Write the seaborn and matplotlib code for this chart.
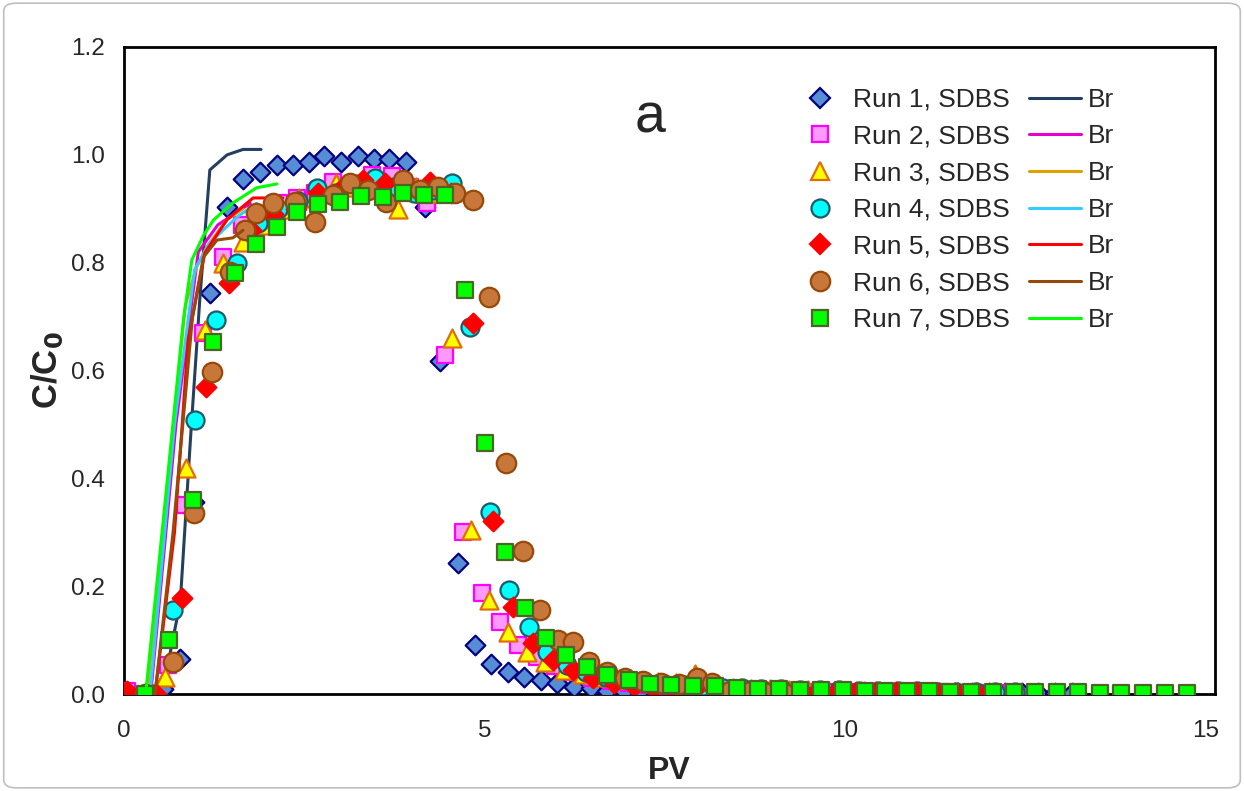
import matplotlib
matplotlib.use("Agg")
import matplotlib.pyplot as plt
from matplotlib.lines import Line2D
from matplotlib.patches import FancyBboxPatch
import pandas as pd
import seaborn as sns

# ---- data (PV, C/C0) ----
run1_x = [0.04, 0.31, 0.54, 0.78, 0.97, 1.19, 1.43, 1.65, 1.89, 2.12, 2.34, 2.56, 2.78, 3.01, 3.24,
          3.46, 3.68, 3.91, 4.17, 4.38, 4.63, 4.87, 5.09, 5.32, 5.55, 5.78, 6.01, 6.24, 6.47, 6.70,
          6.93, 7.16, 7.39, 7.62, 7.85, 8.08, 8.31, 8.54, 8.77, 9.00, 9.23, 9.46, 9.69, 9.92, 10.15,
          10.38, 10.61, 10.84, 11.07, 11.30, 11.53, 11.76, 11.99, 12.22, 12.45, 12.68, 12.91, 13.14]
run1_y = [0.0, 0.002, 0.01, 0.065, 0.356, 0.744, 0.904, 0.955, 0.968, 0.981, 0.981, 0.987, 0.998, 0.987, 0.998,
          0.993, 0.993, 0.987, 0.904, 0.618, 0.243, 0.09, 0.056, 0.041, 0.031, 0.026, 0.02, 0.013, 0.011, 0.006,
          0.005, 0.005, 0.004, 0.004, 0.004, 0.003, 0.003, 0.003, 0.003, 0.003, 0.003, 0.002, 0.002, 0.002, 0.002,
          0.002, 0.002, 0.002, 0.002, 0.002, 0.002, 0.002, 0.002, 0.002, 0.002, 0.002, 0.002, 0.002]

run2_x = [0.04, 0.35, 0.61, 0.85, 1.10, 1.37, 1.64, 1.90, 2.15, 2.40, 2.65, 2.90, 3.17, 3.44, 3.71,
          3.96, 4.20, 4.45, 4.70, 4.96, 5.21, 5.46, 5.73, 5.98, 6.24, 6.49, 6.75, 7.00, 7.26, 7.51,
          7.77, 8.02, 8.28, 8.53, 8.79, 9.04, 9.30, 9.55, 9.81, 10.06, 10.32, 10.57, 10.83, 11.08, 11.34,
          11.59, 11.85, 12.10]
run2_y = [0.005, 0.0, 0.054, 0.35, 0.67, 0.81, 0.87, 0.89, 0.91, 0.92, 0.93, 0.95, 0.94, 0.963, 0.96,
          0.94, 0.91, 0.629, 0.30, 0.187, 0.134, 0.09, 0.069, 0.052, 0.04, 0.03, 0.024, 0.02, 0.016, 0.013,
          0.011, 0.009, 0.008, 0.007, 0.006, 0.005, 0.005, 0.004, 0.004, 0.004, 0.003, 0.003, 0.003, 0.003, 0.003,
          0.002, 0.002, 0.002]

run3_x = [0.04, 0.30, 0.57, 0.86, 1.12, 1.37, 1.65, 1.91, 2.17, 2.43, 2.68, 2.94, 3.20, 3.46, 3.80,
          4.05, 4.30, 4.55, 4.81, 5.06, 5.32, 5.59, 5.84, 6.10, 6.36, 6.62, 6.88, 7.14, 7.40, 7.66,
          7.92, 8.18, 8.44, 8.70, 8.96, 9.22, 9.48, 9.74, 10.00, 10.26, 10.52, 10.78, 11.04, 11.30, 11.56,
          11.82, 12.08]
run3_y = [0.0, 0.0, 0.032, 0.42, 0.675, 0.80, 0.838, 0.87, 0.90, 0.92, 0.93, 0.948, 0.94, 0.95, 0.90,
          0.94, 0.93, 0.66, 0.305, 0.175, 0.115, 0.078, 0.059, 0.045, 0.037, 0.032, 0.028, 0.025, 0.022, 0.02,
          0.038, 0.015, 0.012, 0.01, 0.009, 0.008, 0.007, 0.006, 0.005, 0.005, 0.004, 0.004, 0.003, 0.003, 0.003,
          0.003, 0.002]

run4_x = [0.39, 0.68, 0.98, 1.28, 1.56, 1.86, 2.14, 2.41, 2.67, 2.94, 3.21, 3.48, 3.75, 4.02, 4.28,
          4.55, 4.80, 5.07, 5.34, 5.61, 5.86, 6.14, 6.41, 6.68, 6.95, 7.22, 7.49, 7.76, 8.03, 8.30,
          8.57, 8.84, 9.11, 9.38, 9.65, 9.92, 10.19, 10.46, 10.73, 11.00, 11.27, 11.54, 11.81, 12.08, 12.35]
run4_y = [0.0, 0.155, 0.508, 0.694, 0.80, 0.874, 0.90, 0.915, 0.939, 0.93, 0.945, 0.957, 0.94, 0.93, 0.935,
          0.948, 0.68, 0.338, 0.193, 0.124, 0.078, 0.054, 0.04, 0.032, 0.027, 0.022, 0.019, 0.016, 0.014, 0.012,
          0.011, 0.01, 0.009, 0.008, 0.008, 0.007, 0.006, 0.006, 0.005, 0.005, 0.004, 0.004, 0.004, 0.003, 0.003]

run5_x = [0.04, 0.45, 0.80, 1.14, 1.45, 1.76, 2.07, 2.38, 2.69, 3.00, 3.31, 3.62, 3.93, 4.24, 4.54,
          4.84, 5.12, 5.39, 5.67, 5.95, 6.23, 6.51, 6.79, 7.07, 7.35, 7.63, 7.91, 8.19, 8.47, 8.75,
          9.03, 9.31, 9.59, 9.87, 10.15, 10.43, 10.71, 10.99, 11.27, 11.55, 11.83]
run5_y = [0.005, 0.0, 0.178, 0.57, 0.762, 0.86, 0.89, 0.90, 0.93, 0.935, 0.953, 0.948, 0.94, 0.95, 0.93,
          0.688, 0.32, 0.162, 0.095, 0.063, 0.045, 0.03, 0.02, 0.014, 0.01, 0.008, 0.007, 0.008, 0.006, 0.005,
          0.005, 0.004, 0.004, 0.004, 0.003, 0.003, 0.003, 0.003, 0.002, 0.002, 0.002]

run6_x = [0.29, 0.68, 0.97, 1.22, 1.47, 1.68, 1.83, 2.07, 2.37, 2.65, 2.90, 3.13, 3.38, 3.64, 3.87,
          4.10, 4.35, 4.59, 4.84, 5.06, 5.30, 5.53, 5.77, 6.02, 6.22, 6.45, 6.70, 6.95, 7.20, 7.45,
          7.70, 7.95, 8.15, 8.40, 8.65, 8.90, 9.15]
run6_y = [0.0, 0.06, 0.336, 0.598, 0.783, 0.861, 0.892, 0.911, 0.913, 0.876, 0.926, 0.948, 0.935, 0.913, 0.953,
          0.935, 0.94, 0.93, 0.916, 0.737, 0.428, 0.266, 0.155, 0.10, 0.097, 0.06, 0.04, 0.03, 0.025, 0.02,
          0.018, 0.03, 0.02, 0.005, 0.003, 0.002, 0.002]

run7_x = [0.29, 0.63, 0.96, 1.24, 1.54, 1.83, 2.12, 2.40, 2.69, 3.00, 3.29, 3.59, 3.87, 4.16, 4.45,
          4.73, 5.00, 5.28, 5.56, 5.85, 6.13, 6.42, 6.70, 7.00, 7.30, 7.58, 7.89, 8.19, 8.50, 8.79,
          9.09, 9.38, 9.67, 9.97, 10.27, 10.56, 10.86, 11.16, 11.45, 11.75, 12.05, 12.34, 12.64, 12.94, 13.23,
          13.53, 13.83, 14.13, 14.43, 14.74]
run7_y = [0.0, 0.1, 0.36, 0.653, 0.78, 0.835, 0.866, 0.894, 0.909, 0.913, 0.924, 0.922, 0.929, 0.926, 0.926,
          0.75, 0.466, 0.263, 0.16, 0.104, 0.072, 0.05, 0.035, 0.026, 0.019, 0.017, 0.014, 0.015, 0.011, 0.01,
          0.009, 0.008, 0.008, 0.007, 0.006, 0.006, 0.005, 0.005, 0.004, 0.004, 0.004, 0.003, 0.003, 0.003, 0.003,
          0.002, 0.002, 0.002, 0.002, 0.002]

# Br tracer curves
br1_x = [0.40, 0.60, 0.78, 0.92, 1.05, 1.19, 1.43, 1.65, 1.90]
br1_y = [0.0, 0.05, 0.17, 0.47, 0.73, 0.972, 1.0, 1.01, 1.01]
br2_x = [0.37, 0.72, 1.03, 1.30, 1.75]
br2_y = [0.0, 0.50, 0.82, 0.87, 0.91]
br3_x = [0.32, 0.60, 0.85, 1.00, 1.15, 1.43, 1.65]
br3_y = [0.0, 0.38, 0.72, 0.79, 0.83, 0.88, 0.90]
br4_x = [0.36, 0.70, 0.98, 1.19, 1.57, 1.84]
br4_y = [0.0, 0.50, 0.787, 0.837, 0.885, 0.91]
br5_x = [0.43, 0.70, 0.89, 1.12, 1.43, 1.79, 2.20]
br5_y = [0.0, 0.30, 0.657, 0.818, 0.88, 0.92, 0.92]
br6_x = [0.43, 0.68, 0.95, 1.10, 1.29, 1.51, 1.65]
br6_y = [0.0, 0.30, 0.70, 0.81, 0.842, 0.846, 0.86]
br7_x = [0.30, 0.55, 0.82, 0.94, 1.10, 1.24, 1.50, 1.84, 2.12]
br7_y = [0.0, 0.33, 0.69, 0.805, 0.85, 0.879, 0.91, 0.939, 0.946]

run_labels = ["Run 1, SDBS", "Run 2, SDBS", "Run 3, SDBS", "Run 4, SDBS",
              "Run 5, SDBS", "Run 6, SDBS", "Run 7, SDBS"]

# (marker, size, face, edge, Br line colour)
STYLES = [
    ("D", 10, "#558ED5", "#000080", "#243F60"),
    ("s", 12, "#FF99FF", "#FF00FF", "#E600D0"),
    ("^", 13, "#FFFF00", "#E36C09", "#E0A000"),
    ("o", 13, "#00FFFF", "#215967", "#33CCFF"),
    ("D", 10, "#FF0000", "#FF0000", "#FF0000"),
    ("o", 14, "#C8773A", "#984807", "#984807"),
    ("s", 12, "#00FF00", "#4F6228", "#00FF00"),
]

runs = [(run1_x, run1_y), (run2_x, run2_y), (run3_x, run3_y), (run4_x, run4_y),
        (run5_x, run5_y), (run6_x, run6_y), (run7_x, run7_y)]
brs = [(br1_x, br1_y), (br2_x, br2_y), (br3_x, br3_y), (br4_x, br4_y),
       (br5_x, br5_y), (br6_x, br6_y), (br7_x, br7_y)]

sns.set_style("white")
plt.rcParams["font.family"] = ["Liberation Sans", "DejaVu Sans"]

fig = plt.figure(figsize=(12.44, 7.91), dpi=100)
ax = fig.add_axes([0.0997, 0.1226, 0.877, 0.818])

z = 3
for (rx, ry), (bx, by), (mk, ms, fc, ec, lc) in zip(runs, brs, STYLES):
    d = pd.DataFrame({"PV": rx, "C": ry})
    sns.scatterplot(data=d, x="PV", y="C", marker=mk, s=ms ** 2, color=fc,
                    edgecolor=ec, linewidth=1.6, ax=ax, zorder=z, legend=False)
    b = pd.DataFrame({"PV": bx, "C": by})
    sns.lineplot(data=b, x="PV", y="C", color=lc, linewidth=2.2, sort=False,
                 estimator=None, ax=ax, zorder=z + 1, legend=False)
    z += 2

ax.set_xlim(0, 15.13)
ax.set_ylim(0, 1.2)
ax.set_xticks([0, 5, 10, 15])
ax.set_yticks([0, 0.2, 0.4, 0.6, 0.8, 1.0, 1.2])
ax.set_yticklabels([f"{v:.1f}" for v in [0, 0.2, 0.4, 0.6, 0.8, 1.0, 1.2]])
ax.tick_params(direction="in", length=6, width=1, color="#909090", labelsize=17.5)
ax.tick_params(axis="y", pad=14)
ax.tick_params(axis="x", pad=19)
for s in ax.spines.values():
    s.set_color("black")
    s.set_linewidth(2)
    s.set_visible(True)
ax.set_xlabel("PV", fontsize=23, fontweight="bold", labelpad=10)
ax.set_ylabel("C/C$\\mathbf{_0}$", fontsize=25, fontweight="bold", labelpad=4)

ax.text(0.482, 0.89, "a", transform=ax.transAxes, fontsize=40, ha="center", va="center")

mk_h = [Line2D([], [], ls="none", marker=mk, markersize=ms, markerfacecolor=fc,
               markeredgecolor=ec, markeredgewidth=1.6) for mk, ms, fc, ec, lc in STYLES]
ln_h = [Line2D([], [], color=lc, linewidth=2.2) for mk, ms, fc, ec, lc in STYLES]
ax.legend(mk_h + ln_h, run_labels + ["Br"] * 7, ncol=2, loc="upper left",
          bbox_to_anchor=(0.614, 0.937), frameon=False, fontsize=19,
          handlelength=2.0, handletextpad=0.25, columnspacing=0.7,
          labelspacing=0.48, borderpad=0, borderaxespad=0)

fig.patches.append(FancyBboxPatch((0.003, 0.004), 0.994, 0.992,
                                  boxstyle="round,pad=0,rounding_size=0.01",
                                  transform=fig.transFigure, fill=False,
                                  edgecolor="#BFBFBF", linewidth=1.2))

fig.savefig("out.png", dpi=100)
